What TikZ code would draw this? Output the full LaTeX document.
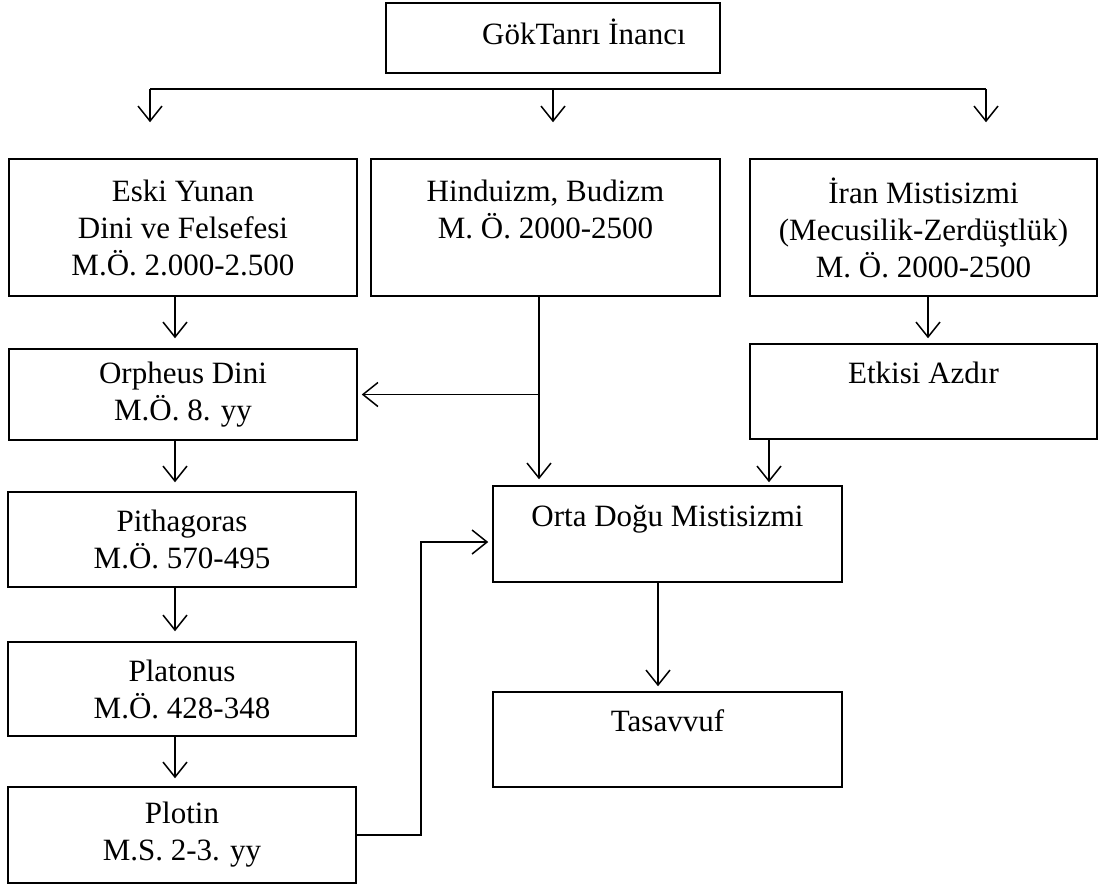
\documentclass[tikz,border=0pt]{standalone}
\usepackage{fontspec}
\setmainfont{Liberation Serif}
\usetikzlibrary{arrows.meta, positioning}

\begin{document}
\begin{tikzpicture}[
    x=1pt, y=-1pt,
    % Styles
    box/.style={% For the boxes
        rectangle,
        draw,
        line width=1.5pt,
        inner sep=0pt,
        align=center,
        font=\fontsize{31}{37}\selectfont,
        },
    conn/.style={% Plain connector lines
        line width=1.5pt,
        },
    arr/.style={% Connector with open arrow head
        line width=1.5pt,
        -{Straight Barb[length=15pt, width=24pt]},
        },
    ]

    \useasboundingbox (0,0) rectangle (1102,889);

    % Top box
    \node [box, minimum width=334pt, minimum height=70pt] (god) at (553,38)
        {\hspace*{62pt}GökTanrı İnancı\\[-25pt]~};

    % First row
    \node [box, minimum width=348pt, minimum height=137pt] (eski) at (183,227.5)
        {Eski Yunan\\Dini ve Felsefesi\\M.Ö. 2.000-2.500};
    \node [box, minimum width=349pt, minimum height=137pt] (hindu) at (545.5,227.5)
        {Hinduizm, Budizm\\M. Ö. 2000-2500\\~};
    \node [box, minimum width=347pt, minimum height=137pt] (iran) at (923.5,227.5)
        {İran Mistisizmi\\(Mecusilik-Zerdüştlük)\\M. Ö. 2000-2500};

    % Left column
    \node [box, minimum width=348pt, minimum height=91pt] (orph) at (183,394.5)
        {Orpheus Dini\\M.Ö. 8. yy};
    \node [box, minimum width=348pt, minimum height=95pt] (pith) at (182,539.5)
        {Pithagoras\\M.Ö. 570-495};
    \node [box, minimum width=348pt, minimum height=94pt] (plat) at (182,689)
        {Platonus\\M.Ö. 428-348};
    \node [box, minimum width=348pt, minimum height=96pt] (plot) at (182,835)
        {Plotin\\M.S. 2-3. yy};

    % Right side
    \node [box, minimum width=347pt, minimum height=95pt] (etki) at (923.5,391.5)
        {Etkisi Azdır\\~};
    \node [box, minimum width=349pt, minimum height=96pt] (orta) at (667.5,534)
        {Orta Doğu Mistisizmi\\~};
    \node [box, minimum width=349pt, minimum height=95pt] (tas) at (667.5,739.5)
        {Tasavvuf\\~};

    % Helper coordinates
    \coordinate (bL) at (150,89);
    \coordinate (bM) at (553,89);
    \coordinate (bR) at (986,89);
    \coordinate (xa) at (175,0);
    \coordinate (xh) at (539,0);
    \coordinate (xi) at (928,0);
    \coordinate (xe) at (769,0);
    \coordinate (xo) at (658,0);
    \coordinate (k1) at (421,835);
    \coordinate (k2) at (421,542);

    % Top branching
    \draw [conn] (bL) -- (bR);
    \draw [arr, shorten >=36pt] (bL) -- (bL |- eski.north);
    \draw [arr, shorten >=36pt] (bM) -- (bM |- hindu.north);
    \draw [arr, shorten >=36pt] (bR) -- (bR |- iran.north);

    % Left chain
    \draw [arr, shorten >=10pt] (eski.south -| xa) -- (orph.north -| xa);
    \draw [arr, shorten >=9pt] (orph.south -| xa) -- (pith.north -| xa);
    \draw [arr, shorten >=10pt] (pith.south -| xa) -- (plat.north -| xa);
    \draw [arr, shorten >=8pt] (plat.south -| xa) -- (plot.north -| xa);

    % Hinduizm
    \draw [arr, shorten >=6pt] (hindu.south -| xh) -- (orta.north -| xh);
    \draw [arr, shorten >=4pt] (xh |- orph.east) -- (orph.east);

    % Iran
    \draw [arr, shorten >=5pt] (iran.south -| xi) -- (etki.north -| xi);
    \draw [arr, shorten >=3pt] (etki.south -| xe) -- (orta.north -| xe);

    % Plotin to Orta Dogu
    \draw [arr, shorten >=4pt] (plot.east |- k1) -- (k1) -- (k2) -- (orta.west |- k2);

    % Orta Dogu to Tasavvuf
    \draw [arr, shorten >=5pt] (orta.south -| xo) -- (tas.north -| xo);

\end{tikzpicture}
\end{document}
